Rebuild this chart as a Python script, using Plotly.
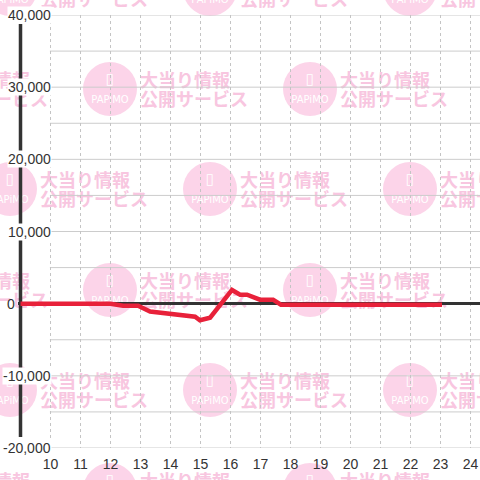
import plotly.graph_objects as go

# ---- data ----
hours = [9.0, 12.0, 12.42, 12.92, 13.32, 14.32, 14.82, 14.98, 15.32, 16.05, 16.32, 16.55, 16.98, 17.42, 17.68, 23.05]
values = [0, 0, -300, -300, -1100, -1500, -1800, -2300, -1950, 1900, 1250, 1250, 550, 550, -150, -150]
x_ticks = list(range(10, 25))
y_ticks = [40000, 30000, 20000, 10000, 0, -10000, -20000]
y_grid = [v for v in range(-20000, 40001, 5000) if v != 0]

# ---- styles ----
W = H = 480
PLOT_L, PLOT_T, PLOT_B = 18, 15, 448
RED = "#e8213a"
DARK = "#333333"
GRID = "#cccccc"
VGRID = "#c4c4c4"
CIRCLE = "#fcd4e9"
WMTEXT = "#f8c6e0"
PX_PER_HR = 30.0
FONT = "Liberation Sans"

fig = go.Figure()

# ---- watermark layer (pixel coordinate subplot, drawn first) ----
row_y = [-11, 89, 189, 290, 390, 490]
cxs, cys = [], []
for k, cy in enumerate(row_y):
    xs = [10, 210, 410] if k % 2 == 0 else [-90, 110, 310, 510]
    for cx in xs:
        cxs.append(cx)
        cys.append(cy)

fig.add_trace(go.Scatter(x=cxs, y=cys, mode="markers", xaxis="x", yaxis="y",
                         marker=dict(size=54, color=CIRCLE, line=dict(width=0)),
                         hoverinfo="skip", showlegend=False))
fig.add_trace(go.Scatter(x=cxs, y=[c - 9 for c in cys], mode="text", xaxis="x", yaxis="y",
                         text=["▯"] * len(cxs),
                         textfont=dict(color="white", size=15, family="DejaVu Sans"),
                         hoverinfo="skip", showlegend=False))
fig.add_trace(go.Scatter(x=cxs, y=[c + 11 for c in cys], mode="text", xaxis="x", yaxis="y",
                         text=["PAPiMO"] * len(cxs),
                         textfont=dict(color="white", size=10, family="DejaVu Sans"),
                         hoverinfo="skip", showlegend=False))
fig.add_trace(go.Scatter(x=[c + 30 for c in cxs] * 2,
                         y=[c - 7 for c in cys] + [c + 12 for c in cys],
                         mode="text", xaxis="x", yaxis="y", textposition="middle right",
                         text=["大当り情報"] * len(cxs) + ["公開サービス"] * len(cxs),
                         textfont=dict(color=WMTEXT, size=18, family="Noto Sans CJK JP", weight="bold"),
                         hoverinfo="skip", showlegend=False))

# ---- data line ----
fig.add_trace(go.Scatter(x=hours, y=values, mode="lines", xaxis="x2", yaxis="y2",
                         line=dict(color=RED, width=4.5, shape="linear"),
                         hoverinfo="skip", showlegend=False))

x_start = 10 - (50.5 - PLOT_L) / PX_PER_HR
x_end = x_start + (W - PLOT_L) / PX_PER_HR

# ---- grid / axis shapes ----
shapes = []
for v in y_grid:
    shapes.append(dict(type="line", xref="x2", yref="y2", x0=9.98, x1=x_end, y0=v, y1=v,
                       line=dict(color=GRID, width=1), layer="below"))
shapes.append(dict(type="line", xref="x2", yref="y2", x0=9.0, x1=9.0, y0=-18480, y1=38750,
                   line=dict(color=DARK, width=3.5), layer="below"))

# ---- y tick labels ----
annotations = []
for v in y_ticks:
    annotations.append(dict(x=(16 if v == 0 else 52) / W, xref="paper", y=v, yref="y2",
                            text=f"{v:,}", showarrow=False, xanchor="right", yanchor="middle",
                            font=dict(size=14, color=DARK, family=FONT),
                            bgcolor="white" if v != 0 else "rgba(0,0,0,0)", borderpad=0))

fig.update_layout(
    width=W, height=H,
    margin=dict(l=0, r=0, t=0, b=0, pad=0),
    paper_bgcolor="white",
    plot_bgcolor="rgba(0,0,0,0)",
    showlegend=False,
    font=dict(family=FONT, color=DARK),
    xaxis=dict(domain=[0, 1], range=[0, W], visible=False, fixedrange=True),
    yaxis=dict(domain=[0, 1], range=[H, 0], visible=False, fixedrange=True),
    xaxis2=dict(domain=[PLOT_L / W, 1], anchor="y2",
                range=[x_start, x_end],
                tickvals=x_ticks, ticktext=[str(t) for t in x_ticks],
                showgrid=True, gridcolor=VGRID, gridwidth=1, griddash="dot",
                zeroline=False, showline=False, ticks="outside", ticklen=3,
                tickcolor="rgba(0,0,0,0)",
                tickfont=dict(size=14, color=DARK, family=FONT)),
    yaxis2=dict(domain=[(H - PLOT_B) / H, (H - PLOT_T) / H], anchor="x2",
                range=[-20000, 40000], showgrid=False, showticklabels=False,
                zeroline=True, zerolinecolor=DARK, zerolinewidth=3, ticks=""),
    shapes=shapes,
    annotations=annotations,
)

fig.write_html("out.html", config={"displayModeBar": False},
               post_script="document.body.style.margin='0';document.body.style.overflow='hidden';")
